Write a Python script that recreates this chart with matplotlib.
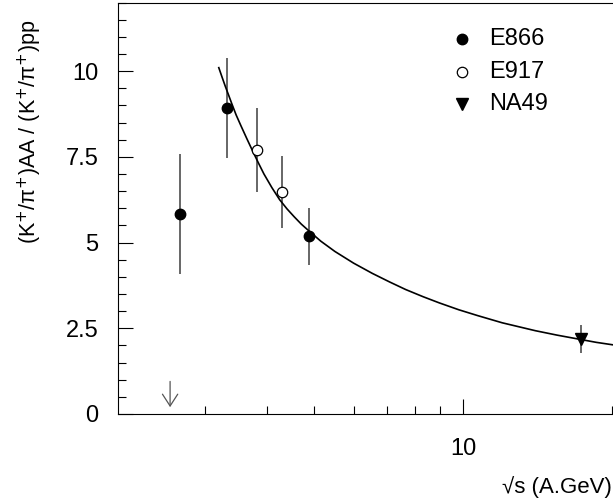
import numpy as np
import matplotlib
matplotlib.use('Agg')
import matplotlib.pyplot as plt
from matplotlib.ticker import FixedLocator, NullFormatter, FuncFormatter

plt.rcParams['font.family'] = ['Liberation Sans', 'DejaVu Sans']

# E866 (filled circles)
e866_x = [2.67, 3.32, 4.87]
e866_y = [5.82, 8.92, 5.18]
e866_err = [1.75, 1.45, 0.83]

# E917 (open circles)
e917_x = [3.82, 4.30]
e917_y = [7.69, 6.47]
e917_err = [1.22, 1.05]

# NA49 (triangle)
na49_x = [17.3]
na49_y = [2.18]
na49_err = [0.41]

# fitted curve
fit_x = [3.20, 3.25, 3.30, 3.35, 3.40, 3.47, 3.55, 3.65, 3.75, 3.85, 3.95, 4.10,
         4.25, 4.40, 4.55, 4.70, 4.88, 5.15, 5.50, 6.00, 6.55, 7.10, 7.65, 8.30,
         8.95, 9.80, 10.7, 12.0, 14.0, 15.5, 17.2, 18.6, 20.05]
fit_y = [10.10, 9.82, 9.55, 9.30, 9.05, 8.72, 8.40, 8.02, 7.66, 7.32, 7.00, 6.60,
         6.25, 5.98, 5.75, 5.54, 5.33, 5.04, 4.74, 4.40, 4.10, 3.85, 3.63, 3.42,
         3.24, 3.04, 2.87, 2.66, 2.43, 2.30, 2.18, 2.09, 2.02]

arrow_x = 2.55

fig = plt.figure(figsize=(6.13, 5.04), dpi=100)
ax = fig.add_axes([118/613, 90/504, 499/613, 411.5/504])

ax.plot(fit_x, fit_y, color='black', lw=1.2, zorder=2)

ebar = dict(fmt='none', ecolor='#666666', elinewidth=1.4, capsize=0, zorder=1)
ax.errorbar(e866_x, e866_y, yerr=e866_err, **ebar)
ax.errorbar(e917_x, e917_y, yerr=e917_err, **ebar)
ax.errorbar(na49_x, na49_y, yerr=na49_err, **ebar)

ax.plot(e866_x, e866_y, 'o', color='black', ms=7.5, zorder=3)
ax.plot(e917_x, e917_y, 'o', mfc='white', mec='black', mew=0.9, ms=7.5, zorder=3)
ax.plot(na49_x, na49_y, 'v', color='black', ms=8, zorder=3)

# limit marker near threshold
ax.annotate('', xy=(arrow_x, 0.2), xytext=(arrow_x, 0.95),
            arrowprops=dict(arrowstyle='->,head_length=0.85,head_width=0.55',
                            color='#555555', lw=0.9, shrinkA=0, shrinkB=0))

ax.set_xscale('log')
ax.set_xlim(2, 20.5)
ax.set_ylim(0, 12)

ax.xaxis.set_major_locator(FixedLocator([10]))
ax.xaxis.set_minor_locator(FixedLocator([3, 4, 5, 6, 7, 8, 9, 20]))
ax.xaxis.set_major_formatter(FuncFormatter(lambda v, p: '%g' % v))
ax.xaxis.set_minor_formatter(NullFormatter())
ax.yaxis.set_major_locator(FixedLocator([0, 2.5, 5, 7.5, 10]))
ax.yaxis.set_minor_locator(FixedLocator(np.arange(0, 12.01, 0.5)))
ax.yaxis.set_major_formatter(FuncFormatter(lambda v, p: '%g' % v))

ax.tick_params(which='both', direction='in', width=0.8, labelsize=17, pad=14)
ax.tick_params(which='major', length=11)
ax.tick_params(which='minor', length=6)
ax.tick_params(axis='x', pad=17)
for s in ax.spines.values():
    s.set_linewidth(0.8)

ax.set_ylabel('(K$^{+}$/\u03c0$^{+}$)AA / (K$^{+}$/\u03c0$^{+}$)pp', fontsize=15.5)
ax.yaxis.set_label_coords(-0.148, 0.685)
fig.text(612/613, 1 - 487/504, '\u221as (A.GeV)', fontsize=16, ha='right', va='center')

# legend
lx, tx = 9.95, 11.3
for ly, lab in [(10.94, 'E866'), (9.97, 'E917'), (9.04, 'NA49')]:
    ax.text(tx, ly, lab, fontsize=17, va='center')
ax.plot([lx], [10.94], 'o', color='black', ms=7.5)
ax.plot([lx], [9.97], 'o', mfc='white', mec='black', mew=0.9, ms=7.5)
ax.plot([lx], [9.04], 'v', color='black', ms=8)

fig.savefig('out.png', dpi=100)
